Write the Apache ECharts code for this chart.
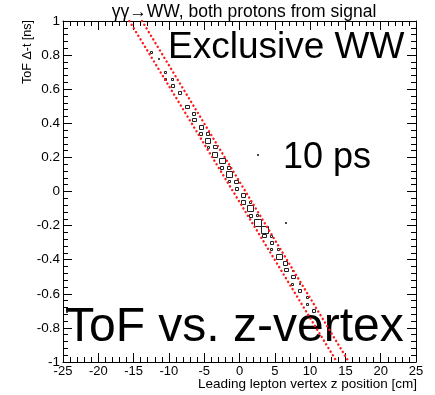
<!DOCTYPE html>
<html><head><meta charset="utf-8">
<script src="https://cdn.jsdelivr.net/npm/echarts@6/dist/echarts.min.js"></script>
<style>html,body{margin:0;padding:0;background:#fff}#c{width:435px;height:395px}</style>
</head><body><div id="c"></div>
<script>
// Histogram cells (bin centres) and contents
const binWidthX = 1;      // cm
const binWidthY = 0.04;   // ns
const boxX = [-12.5,-11.5,-10.5,-10.5,-9.5,-9.5,-8.5,-7.5,-6.5,-6.5,-5.5,-5.5,-4.5,-4.5,-4.5,-3.5,-3.5,-2.5,-2.5,-1.5,-1.5,-1.5,-0.5,-0.5,0.5,0.5,1.5,1.5,1.5,2.5,2.5,3.5,3.5,4.5,4.5,4.5,5.5,5.5,6.5,6.5,7.5,7.5,7.5,8.5,8.5,9.5,9.5,10.5,2.5,6.5,-24.5];
const boxY = [0.82,0.78,0.70,0.66,0.66,0.62,0.58,0.50,0.46,0.42,0.38,0.34,0.34,0.30,0.26,0.26,0.22,0.18,0.14,0.14,0.10,0.06,0.06,0.02,-0.02,-0.06,-0.06,-0.10,-0.14,-0.14,-0.18,-0.22,-0.26,-0.26,-0.30,-0.34,-0.34,-0.38,-0.42,-0.46,-0.46,-0.50,-0.54,-0.54,-0.58,-0.62,-0.66,-0.70,0.22,-0.18,-0.70];
const boxContent = [3,1,3,3,3,4,4,5,4,5,6,4,4,7,3,5,7,8,4,4,9,3,5,4,6,6,3,9,4,3,10,10,5,3,4,3,3,8,6,5,1,5,3,1,4,3,3,4,1,1,1];
const maxContent = 10;
// Selection band (red dotted lines)
const cutLeftX = [-15.6, 13.8];
const cutLeftY = [1, -1];
const cutRightX = [-13.8, 15.5];
const cutRightY = [1, -1];

const boxData = boxX.map((x, i) => [x, boxY[i], boxContent[i]]);
const lineL = cutLeftX.map((x, i) => [x, cutLeftY[i]]);
const lineR = cutRightX.map((x, i) => [x, cutRightY[i]]);

const FONT = '"Liberation Sans", Arial, sans-serif';
const axisCommon = {
  type: 'value',
  axisLine: { show: true, onZero: false, lineStyle: { color: '#000', width: 1 } },
  axisTick: { show: true, inside: true, length: 9, lineStyle: { color: '#000' } },
  minorTick: { show: true, splitNumber: 5, length: 5, lineStyle: { color: '#000' } },
  splitLine: { show: false },
  minorSplitLine: { show: false }
};
const chart = echarts.init(document.getElementById('c'));
chart.setOption({
  animation: false,
  backgroundColor: '#fff',
  grid: { left: 63, right: 19, top: 21, bottom: 33 },
  xAxis: [
    Object.assign({}, axisCommon, { position: 'bottom', min: -25, max: 25, interval: 5,
      axisLabel: { show: true, color: '#000', fontSize: 13, fontFamily: FONT, margin: 3, showMinLabel: true, showMaxLabel: true } }),
    Object.assign({}, axisCommon, { position: 'top', min: -25, max: 25, interval: 5, axisLabel: { show: false } })
  ],
  yAxis: [
    Object.assign({}, axisCommon, { position: 'left', min: -1, max: 1, interval: 0.2,
      axisLabel: { show: true, color: '#000', fontSize: 13.5, fontFamily: FONT, margin: 3, showMinLabel: true, showMaxLabel: true } }),
    Object.assign({}, axisCommon, { position: 'right', min: -1, max: 1, interval: 0.2, axisLabel: { show: false } })
  ],
  series: [
    {
      type: 'custom',
      clip: true,
      data: boxData,
      renderItem: function (params, api) {
        const c = api.coord([api.value(0), api.value(1)]);
        const s = api.size([binWidthX, binWidthY]);
        const f = api.value(2) / maxContent;
        const w = s[0] * f, h = s[1] * f;
        const tiny = api.value(2) <= 1;
        return {
          type: 'rect',
          shape: { x: Math.round(c[0] - w / 2) + 0.5, y: Math.round(c[1] - h / 2) + 0.5, width: tiny ? 1 : Math.round(w), height: tiny ? 1 : Math.round(h) },
          style: { fill: tiny ? '#222' : 'none', stroke: '#222', lineWidth: 1 }
        };
      }
    },
    {
      type: 'line', data: lineL, symbol: 'none', clip: true,
      lineStyle: { color: '#ff1a1a', width: 2.4, type: [0.1, 4.2], cap: 'round' }
    },
    {
      type: 'line', data: lineR, symbol: 'none', clip: true,
      lineStyle: { color: '#ff1a1a', width: 2.4, type: [0.1, 4.2], cap: 'round' }
    }
  ],
  graphic: [
    { type: 'text', x: 244, y: 12,
      style: { text: 'γγ→WW, both protons from signal', font: '17.5px ' + FONT, fill: '#000', align: 'center', verticalAlign: 'middle' } },
    { type: 'text', x: 28, y: 20, rotation: Math.PI / 2,
      style: { text: 'ToF Δ-t [ns]', font: '12.5px ' + FONT, fill: '#000', align: 'right', verticalAlign: 'middle' } },
    { type: 'text', x: 417, y: 384,
      style: { text: 'Leading lepton vertex z position [cm]', font: '13.5px ' + FONT, fill: '#000', align: 'right', verticalAlign: 'middle' } },
    { type: 'text', x: 168, y: 48,
      style: { text: 'Exclusive WW', font: '37px ' + FONT, fill: '#000', align: 'left', verticalAlign: 'middle' } },
    { type: 'text', x: 283, y: 158,
      style: { text: '10 ps', font: '36px ' + FONT, fill: '#000', align: 'left', verticalAlign: 'middle' } },
    { type: 'text', x: 65, y: 328,
      style: { text: 'ToF vs. z-vertex', font: '48px ' + FONT, fill: '#000', align: 'left', verticalAlign: 'middle' } }
  ]
});
</script></body></html>
